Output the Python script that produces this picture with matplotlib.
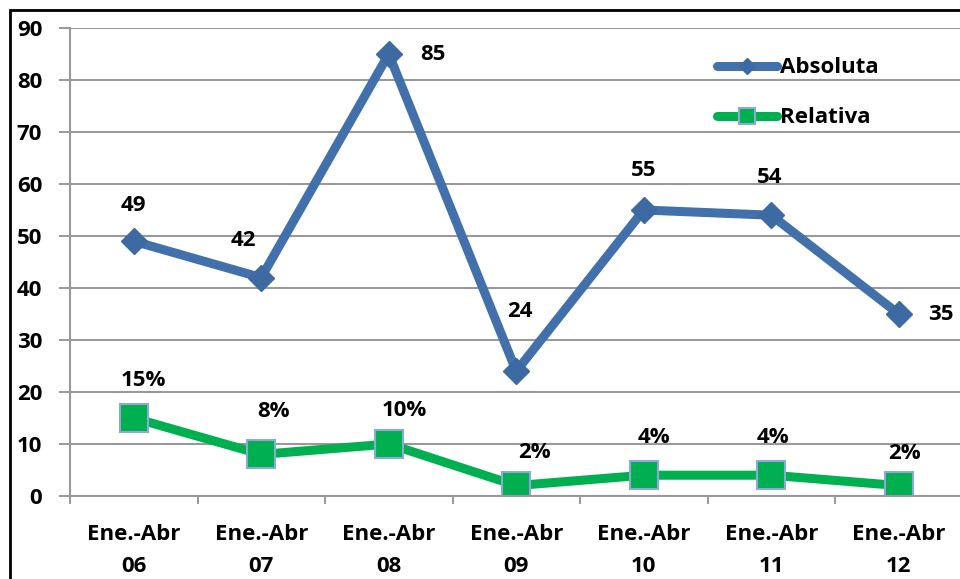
import matplotlib.pyplot as plt
from matplotlib.patches import Rectangle

plt.rcParams['font.family'] = ['Open Sans', 'DejaVu Sans']
plt.rcParams['font.weight'] = 'bold'

categories = ["Ene.-Abr\n06", "Ene.-Abr\n07", "Ene.-Abr\n08", "Ene.-Abr\n09",
              "Ene.-Abr\n10", "Ene.-Abr\n11", "Ene.-Abr\n12"]
absoluta = [49, 42, 85, 24, 55, 54, 35]
relativa = [15, 8, 10, 2, 4, 4, 2]
relativa_labels = ["15%", "8%", "10%", "2%", "4%", "4%", "2%"]

# label offsets in pixels (dx, dy)
abs_off = [(0, 36), (-18, 37), (44, 0), (4, 60), (0, 39), (-2, 38), (42, 0)]
rel_off = [(10, 38), (12, 43), (16, 34), (18, 33), (10, 38), (2, 38), (6, 32)]

blue = "#4170AA"
green = "#00B050"
fs = 16

fig = plt.figure(figsize=(9.6, 5.79), dpi=100)
ax = fig.add_axes([70 / 960, 83 / 579, 892.5 / 960, 468 / 579])

x = list(range(len(categories)))
ax.plot(x, absoluta, color=blue, linewidth=6.5, marker="D", markersize=13,
        markerfacecolor="#3D6AA3", markeredgecolor="#3D6AA3", label="Absoluta",
        solid_joinstyle="round", solid_capstyle="round")
ax.plot(x, relativa, color=green, linewidth=6.5, marker="s", markersize=20,
        markerfacecolor=green, markeredgecolor="#8EA9D6", markeredgewidth=1.5,
        label="Relativa", solid_capstyle="round")

for i, v in enumerate(absoluta):
    ax.annotate(str(v), (i, v), xytext=abs_off[i], textcoords="offset pixels",
                ha="center", va="center", fontsize=fs, fontweight="bold")
for i, v in enumerate(relativa):
    ax.annotate(relativa_labels[i], (i, v), xytext=rel_off[i], textcoords="offset pixels",
                ha="center", va="center", fontsize=fs, fontweight="bold")

ax.set_xlim(-0.5, len(categories) - 0.5)
ax.set_ylim(0, 90)
ax.set_yticks(range(0, 91, 10))
ax.set_xticks(x)
ax.set_xticklabels(categories, fontsize=fs, fontweight="bold", linespacing=1.7)
ax.set_xticks([i + 0.5 for i in range(-1, len(categories))], minor=True)
ax.tick_params(axis="x", which="major", length=0, pad=20)
ax.tick_params(axis="x", which="minor", length=6, color="#888888", width=1.2)
ax.tick_params(axis="y", length=8, color="#888888", width=1.2, labelsize=fs, pad=12)
for lab in ax.get_yticklabels():
    lab.set_fontweight("bold")

ax.grid(axis="y", color="#999999", linewidth=1.5)
ax.set_axisbelow(True)
for s in ["top", "right"]:
    ax.spines[s].set_visible(False)
for s in ["left", "bottom"]:
    ax.spines[s].set_color("#999999")
    ax.spines[s].set_linewidth(1.5)

leg = ax.legend(loc="upper left", bbox_to_anchor=(0.7254, 0.937), frameon=False,
                fontsize=fs, handlelength=2.7, handletextpad=0.1, labelspacing=1.3,
                borderpad=0, borderaxespad=0, markerscale=0.6)
for t in leg.get_texts():
    t.set_fontweight("bold")

fig.patches.append(Rectangle((10 / 960, -0.1), 1.2, 1.1 - 10 / 579, transform=fig.transFigure,
                             fill=False, edgecolor="black", linewidth=2))

fig.savefig("out.png", dpi=100)
